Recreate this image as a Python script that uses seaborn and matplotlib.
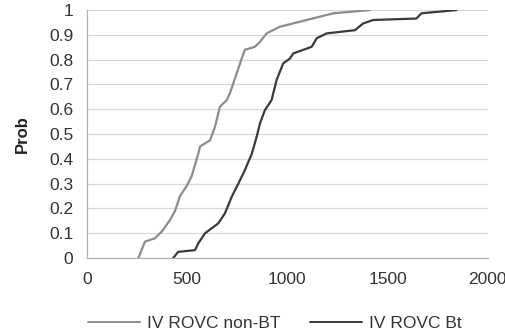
import matplotlib
matplotlib.use("Agg")
import matplotlib.pyplot as plt
import seaborn as sns
import pandas as pd
from matplotlib.lines import Line2D

nonbt_x = [256, 289, 339, 372, 414, 439, 464, 497, 522, 555, 564, 614, 639, 663, 697, 713, 747, 770, 788, 838, 863, 896, 963, 1096, 1229, 1412]
nonbt_y = [0.0, 0.066, 0.08, 0.106, 0.153, 0.19, 0.25, 0.29, 0.33, 0.42, 0.45, 0.475, 0.53, 0.61, 0.637, 0.664, 0.745, 0.80, 0.84, 0.852, 0.872, 0.906, 0.933, 0.96, 0.987, 1.0]
bt_x = [430, 455, 539, 555, 589, 655, 688, 722, 755, 788, 822, 847, 863, 888, 921, 946, 979, 1013, 1029, 1121, 1146, 1196, 1337, 1378, 1428, 1644, 1669, 1844]
bt_y = [0.0, 0.025, 0.032, 0.059, 0.10, 0.14, 0.18, 0.247, 0.30, 0.355, 0.42, 0.49, 0.543, 0.597, 0.637, 0.718, 0.785, 0.805, 0.825, 0.852, 0.886, 0.906, 0.919, 0.946, 0.96, 0.966, 0.987, 1.0]
series_names = ["IV ROVC non-BT", "IV ROVC Bt"]
x_ticks = [0, 500, 1000, 1500, 2000]
y_ticks = [0, 0.1, 0.2, 0.3, 0.4, 0.5, 0.6, 0.7, 0.8, 0.9, 1]
colors = ["#8c8c8c", "#3a3a3a"]

df = pd.concat([
    pd.DataFrame({"x": nonbt_x, "y": nonbt_y, "s": series_names[0]}),
    pd.DataFrame({"x": bt_x, "y": bt_y, "s": series_names[1]}),
])

sns.set_style("white")
plt.rcParams["font.family"] = ["Liberation Sans", "DejaVu Sans"]

fig = plt.figure(figsize=(5.06, 3.36), dpi=100)
ax = fig.add_axes([0.172, 0.232, 0.792, 0.738])
sns.lineplot(data=df, x="x", y="y", hue="s", palette=colors,
             sort=False, estimator=None, linewidth=1.6, ax=ax, legend=False)

ax.set_xlim(0, 2000)
ax.set_ylim(0, 1)
ax.set_xticks(x_ticks)
ax.set_xticklabels([str(t) for t in x_ticks])
ax.set_yticks(y_ticks)
ax.set_yticklabels([("%g" % t) for t in y_ticks])
ax.yaxis.grid(True, color="#d8d8d8", linewidth=0.9)
ax.xaxis.grid(False)
for s in ["top", "right"]:
    ax.spines[s].set_visible(False)
for s in ["left", "bottom"]:
    ax.spines[s].set_color("#b0b0b0")
    ax.spines[s].set_linewidth(0.9)
ax.tick_params(axis="both", labelsize=12.5, colors="#333333", length=3, width=0.8)
ax.tick_params(axis="x", pad=7, color="#b0b0b0")
ax.tick_params(axis="y", color="#b0b0b0", pad=7)
ax.set_xlabel("")
ax.set_ylabel("Prob", fontsize=12, fontweight="bold", color="#222222", labelpad=14)

handles = [Line2D([], [], color=colors[0], lw=1.4), Line2D([], [], color=colors[1], lw=1.4)]
fig.legend(handles, series_names, loc="center", bbox_to_anchor=(0.543, 0.036), ncol=2,
           frameon=False, fontsize=12.5, handlelength=3.0, handletextpad=0.4, columnspacing=1.7,
           labelcolor="#333333")

fig.savefig("out.png", dpi=100)
